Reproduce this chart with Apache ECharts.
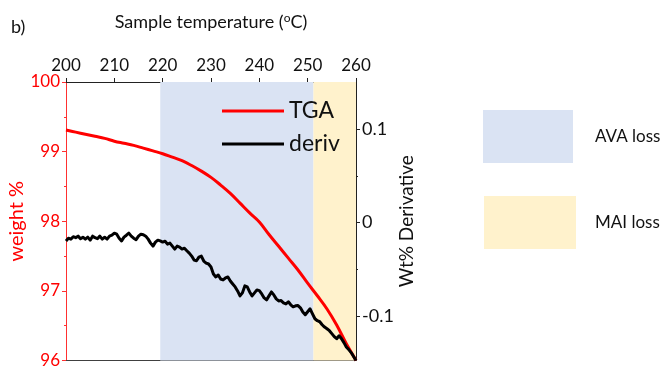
<!DOCTYPE html>
<html>
<head>
<meta charset="utf-8">
<script src="https://cdn.jsdelivr.net/npm/echarts@6/dist/echarts.min.js"></script>
<style>
  html, body { margin: 0; padding: 0; background: #ffffff; }
  #chart { width: 672px; height: 369px; }
</style>
</head>
<body>
<div id="chart"></div>
<script>
// Temperature axis ticks (top axis)
const tempTicks = [200, 210, 220, 230, 240, 250, 260];
// Weight axis ticks (left) and derivative axis ticks (right)
const weightTicks = [96, 97, 98, 99, 100];
const derivTicks = [-0.1, 0, 0.1];
const derivMinorTicks = [-0.05, 0.05];

// TGA curve: [temperature (°C), weight %]
const tgaData = [
  [200, 99.31], [202, 99.28], [204, 99.25], [206, 99.22], [208, 99.19],
  [210, 99.15], [212, 99.12], [214, 99.09], [216, 99.05], [218, 99.01],
  [220, 98.97], [222, 98.92], [224, 98.87], [226, 98.80], [228, 98.72],
  [230, 98.63], [232, 98.52], [234, 98.40], [236, 98.26], [238, 98.12],
  [240, 97.99], [242, 97.81], [244, 97.64], [246, 97.47], [248, 97.30],
  [250, 97.11], [252, 96.93], [254, 96.74], [256, 96.51], [258, 96.24],
  [259, 96.12], [260, 96.00]
];

// Derivative curve: [temperature (°C), wt% derivative]
const derivData = [
  [200, -0.0196], [200.5, -0.0167], [201, -0.0177], [201.5, -0.0151], [202, -0.0161],
  [202.5, -0.0145], [203, -0.0172], [203.5, -0.0156], [204, -0.0177], [204.5, -0.0156],
  [205, -0.0188], [205.5, -0.0145], [206, -0.0161], [206.5, -0.0172], [207, -0.0145],
  [207.5, -0.0177], [208, -0.0156], [208.5, -0.0177], [209, -0.0145], [209.5, -0.0135],
  [210, -0.0113], [210.5, -0.0124], [211, -0.0167], [211.5, -0.0196], [212, -0.0156],
  [212.5, -0.0135], [213, -0.0113], [213.5, -0.0145], [214, -0.0167], [214.5, -0.0183],
  [215, -0.0145], [215.5, -0.0124], [216, -0.0129], [216.5, -0.0145], [217, -0.0177],
  [217.5, -0.0220], [218, -0.0252], [218.5, -0.0209], [219, -0.0188], [219.5, -0.0196],
  [220, -0.0209], [220.5, -0.0199], [221, -0.0231], [221.5, -0.0220], [222, -0.0252],
  [222.5, -0.0284], [223, -0.0252], [223.5, -0.0263], [224, -0.0284], [224.5, -0.0274],
  [225, -0.0302], [225.5, -0.0327], [226, -0.0359], [226.5, -0.0402], [227, -0.0409],
  [227.5, -0.0370], [228, -0.0359], [228.5, -0.0412], [229, -0.0434], [229.5, -0.0444],
  [230, -0.0476], [230.5, -0.0551], [231, -0.0583], [231.5, -0.0562], [232, -0.0605],
  [232.5, -0.0615], [233, -0.0594], [233.5, -0.0583], [234, -0.0626], [234.5, -0.0658],
  [235, -0.0690], [235.5, -0.0733], [236, -0.0786], [236.5, -0.0754], [237, -0.0679],
  [237.5, -0.0690], [238, -0.0744], [238.5, -0.0786], [239, -0.0754], [239.5, -0.0722],
  [240, -0.0730], [240.5, -0.0765], [241, -0.0808], [241.5, -0.0829], [242, -0.0786],
  [242.5, -0.0744], [243, -0.0776], [243.5, -0.0818], [244, -0.0840], [244.5, -0.0837],
  [245, -0.0861], [245.5, -0.0872], [246, -0.0850], [246.5, -0.0882], [247, -0.0904],
  [247.5, -0.0893], [248, -0.0890], [248.5, -0.0915], [249, -0.0960], [249.5, -0.0989],
  [250, -0.0957], [250.5, -0.0925], [251, -0.0979], [251.5, -0.1032], [252, -0.1053],
  [252.5, -0.1064], [253, -0.1096], [253.5, -0.1121], [254, -0.1139], [254.5, -0.1160],
  [255, -0.1192], [255.5, -0.1224], [256, -0.1246], [256.5, -0.1214], [257, -0.1246],
  [257.5, -0.1288], [258, -0.1334], [258.5, -0.1363], [259, -0.1395], [259.5, -0.1438],
  [260, -0.1480]
];

// Shaded temperature ranges
const regionNames = ['AVA loss', 'MAI loss'];
const regionStart = [219.5, 251.2];
const regionEnd = [251.2, 260];

const regionColors = ['#dae3f3', '#fff2cc'];
const FONT = 'Lato, "Open Sans", sans-serif';
const TEXT = '#111111';

const chart = echarts.init(document.getElementById('chart'), null, { renderer: 'canvas' });

const option = {
  animation: false,
  textStyle: { fontFamily: FONT },
  grid: { left: 66, right: 316, top: 82, bottom: 7, containLabel: false },
  legend: {
    data: ['TGA', 'deriv'],
    orient: 'vertical',
    left: 222,
    top: 99,
    padding: 0,
    icon: 'rect',
    itemWidth: 62,
    itemHeight: 3,
    itemGap: 9,
    textStyle: { fontFamily: FONT, fontSize: 23, color: TEXT, lineHeight: 24, padding: [0, 0, 0, 0] },
    selectedMode: false
  },
  xAxis: [
    {
      type: 'value', position: 'top', min: 200, max: 260, interval: 10,
      name: '{t|Sample temperature (}{s|o}{t|C)}',
      nameLocation: 'middle', nameGap: 50,
      nameTextStyle: {
        rich: {
          t: { fontFamily: FONT, fontSize: 18, color: TEXT },
          s: { fontFamily: FONT, fontSize: 12, color: TEXT, verticalAlign: 'top', padding: [0, 0, 8, 0] }
        }
      },
      axisLine: { show: true, onZero: false, lineStyle: { color: '#222222', width: 1 } },
      axisTick: { show: true, inside: false, length: 4, lineStyle: { color: '#222222' } },
      axisLabel: { margin: 8, fontFamily: FONT, fontSize: 17, color: TEXT },
      splitLine: { show: false }
    },
    {
      type: 'value', position: 'bottom', min: 200, max: 260,
      axisLine: { show: true, onZero: false, lineStyle: { color: '#404040', width: 1 } },
      axisTick: { show: false }, axisLabel: { show: false }, splitLine: { show: false }
    }
  ],
  yAxis: [
    {
      type: 'value', position: 'left', min: 96, max: 100, interval: 1,
      name: 'weight %', nameLocation: 'middle', nameGap: 36, nameRotate: 90,
      nameTextStyle: { fontFamily: FONT, fontSize: 20, color: '#ff0000' },
      axisLine: { show: true, onZero: false, lineStyle: { color: '#ff3030', width: 1 } },
      axisTick: { show: true, inside: false, length: 4, lineStyle: { color: '#ff3030' } },
      minorTick: { show: true, splitNumber: 2, length: 2, lineStyle: { color: '#ff3030' } },
      axisLabel: { margin: 6, fontFamily: FONT, fontSize: 17, color: '#ff0000' },
      splitLine: { show: false }, minorSplitLine: { show: false }
    },
    {
      type: 'value', position: 'right', min: -0.148, max: 0.151,
      name: 'Wt% Derivative', nameLocation: 'middle', nameGap: 29, nameRotate: 90,
      nameTextStyle: { fontFamily: FONT, fontSize: 19, color: TEXT },
      axisLine: { show: true, onZero: false, lineStyle: { color: '#222222', width: 1 } },
      axisTick: { show: true, inside: false, length: 4, customValues: derivTicks, lineStyle: { color: '#222222' } },
      axisLabel: { margin: 6, fontFamily: FONT, fontSize: 18, color: TEXT,
        customValues: derivTicks,
        formatter: v => (Math.abs(v) < 1e-9 ? '0' : String(Math.round(v * 10) / 10)) },
      splitLine: { show: false }
    },
    {
      type: 'value', position: 'right', min: -0.148, max: 0.151,
      axisLine: { show: false, onZero: false },
      axisTick: { show: true, inside: false, length: 2, customValues: derivMinorTicks, lineStyle: { color: '#222222' } },
      axisLabel: { show: false }, splitLine: { show: false }
    }
  ],
  series: [
    {
      name: 'regions', type: 'line', xAxisIndex: 0, yAxisIndex: 0, z: 1,
      data: tgaData, showSymbol: false, symbol: 'none',
      lineStyle: { opacity: 0 }, silent: true, tooltip: { show: false },
      markArea: {
        silent: true,
        data: regionNames.map((n, i) => [
          { xAxis: regionStart[i], itemStyle: { color: regionColors[i], opacity: 1 } },
          { xAxis: regionEnd[i] }
        ])
      }
    },
    {
      name: 'TGA', type: 'line', xAxisIndex: 0, yAxisIndex: 0, z: 3,
      data: tgaData, smooth: 0.4, showSymbol: false, symbol: 'none',
      lineStyle: { color: '#ff0000', width: 3 }, itemStyle: { color: '#ff0000' }
    },
    {
      name: 'deriv', type: 'line', xAxisIndex: 0, yAxisIndex: 1, z: 4,
      data: derivData, showSymbol: false, symbol: 'none',
      lineStyle: { color: '#000000', width: 3, join: 'round' }, itemStyle: { color: '#000000' }
    }
  ],
  graphic: [
    { type: 'text', left: 11, top: 18, style: { text: 'b)', fontFamily: FONT, fontSize: 18, fill: TEXT } },
    { type: 'rect', shape: { x: 483, y: 110, width: 90, height: 53 }, style: { fill: regionColors[0] } },
    { type: 'rect', shape: { x: 484, y: 196, width: 92, height: 53 }, style: { fill: regionColors[1] } },
    { type: 'text', x: 595, y: 137, style: { text: regionNames[0], fontFamily: FONT, fontSize: 17, fill: TEXT, verticalAlign: 'middle' } },
    { type: 'text', x: 595, y: 223, style: { text: regionNames[1], fontFamily: FONT, fontSize: 17, fill: TEXT, verticalAlign: 'middle' } }
  ]
};

chart.setOption(option);
</script>
</body>
</html>
